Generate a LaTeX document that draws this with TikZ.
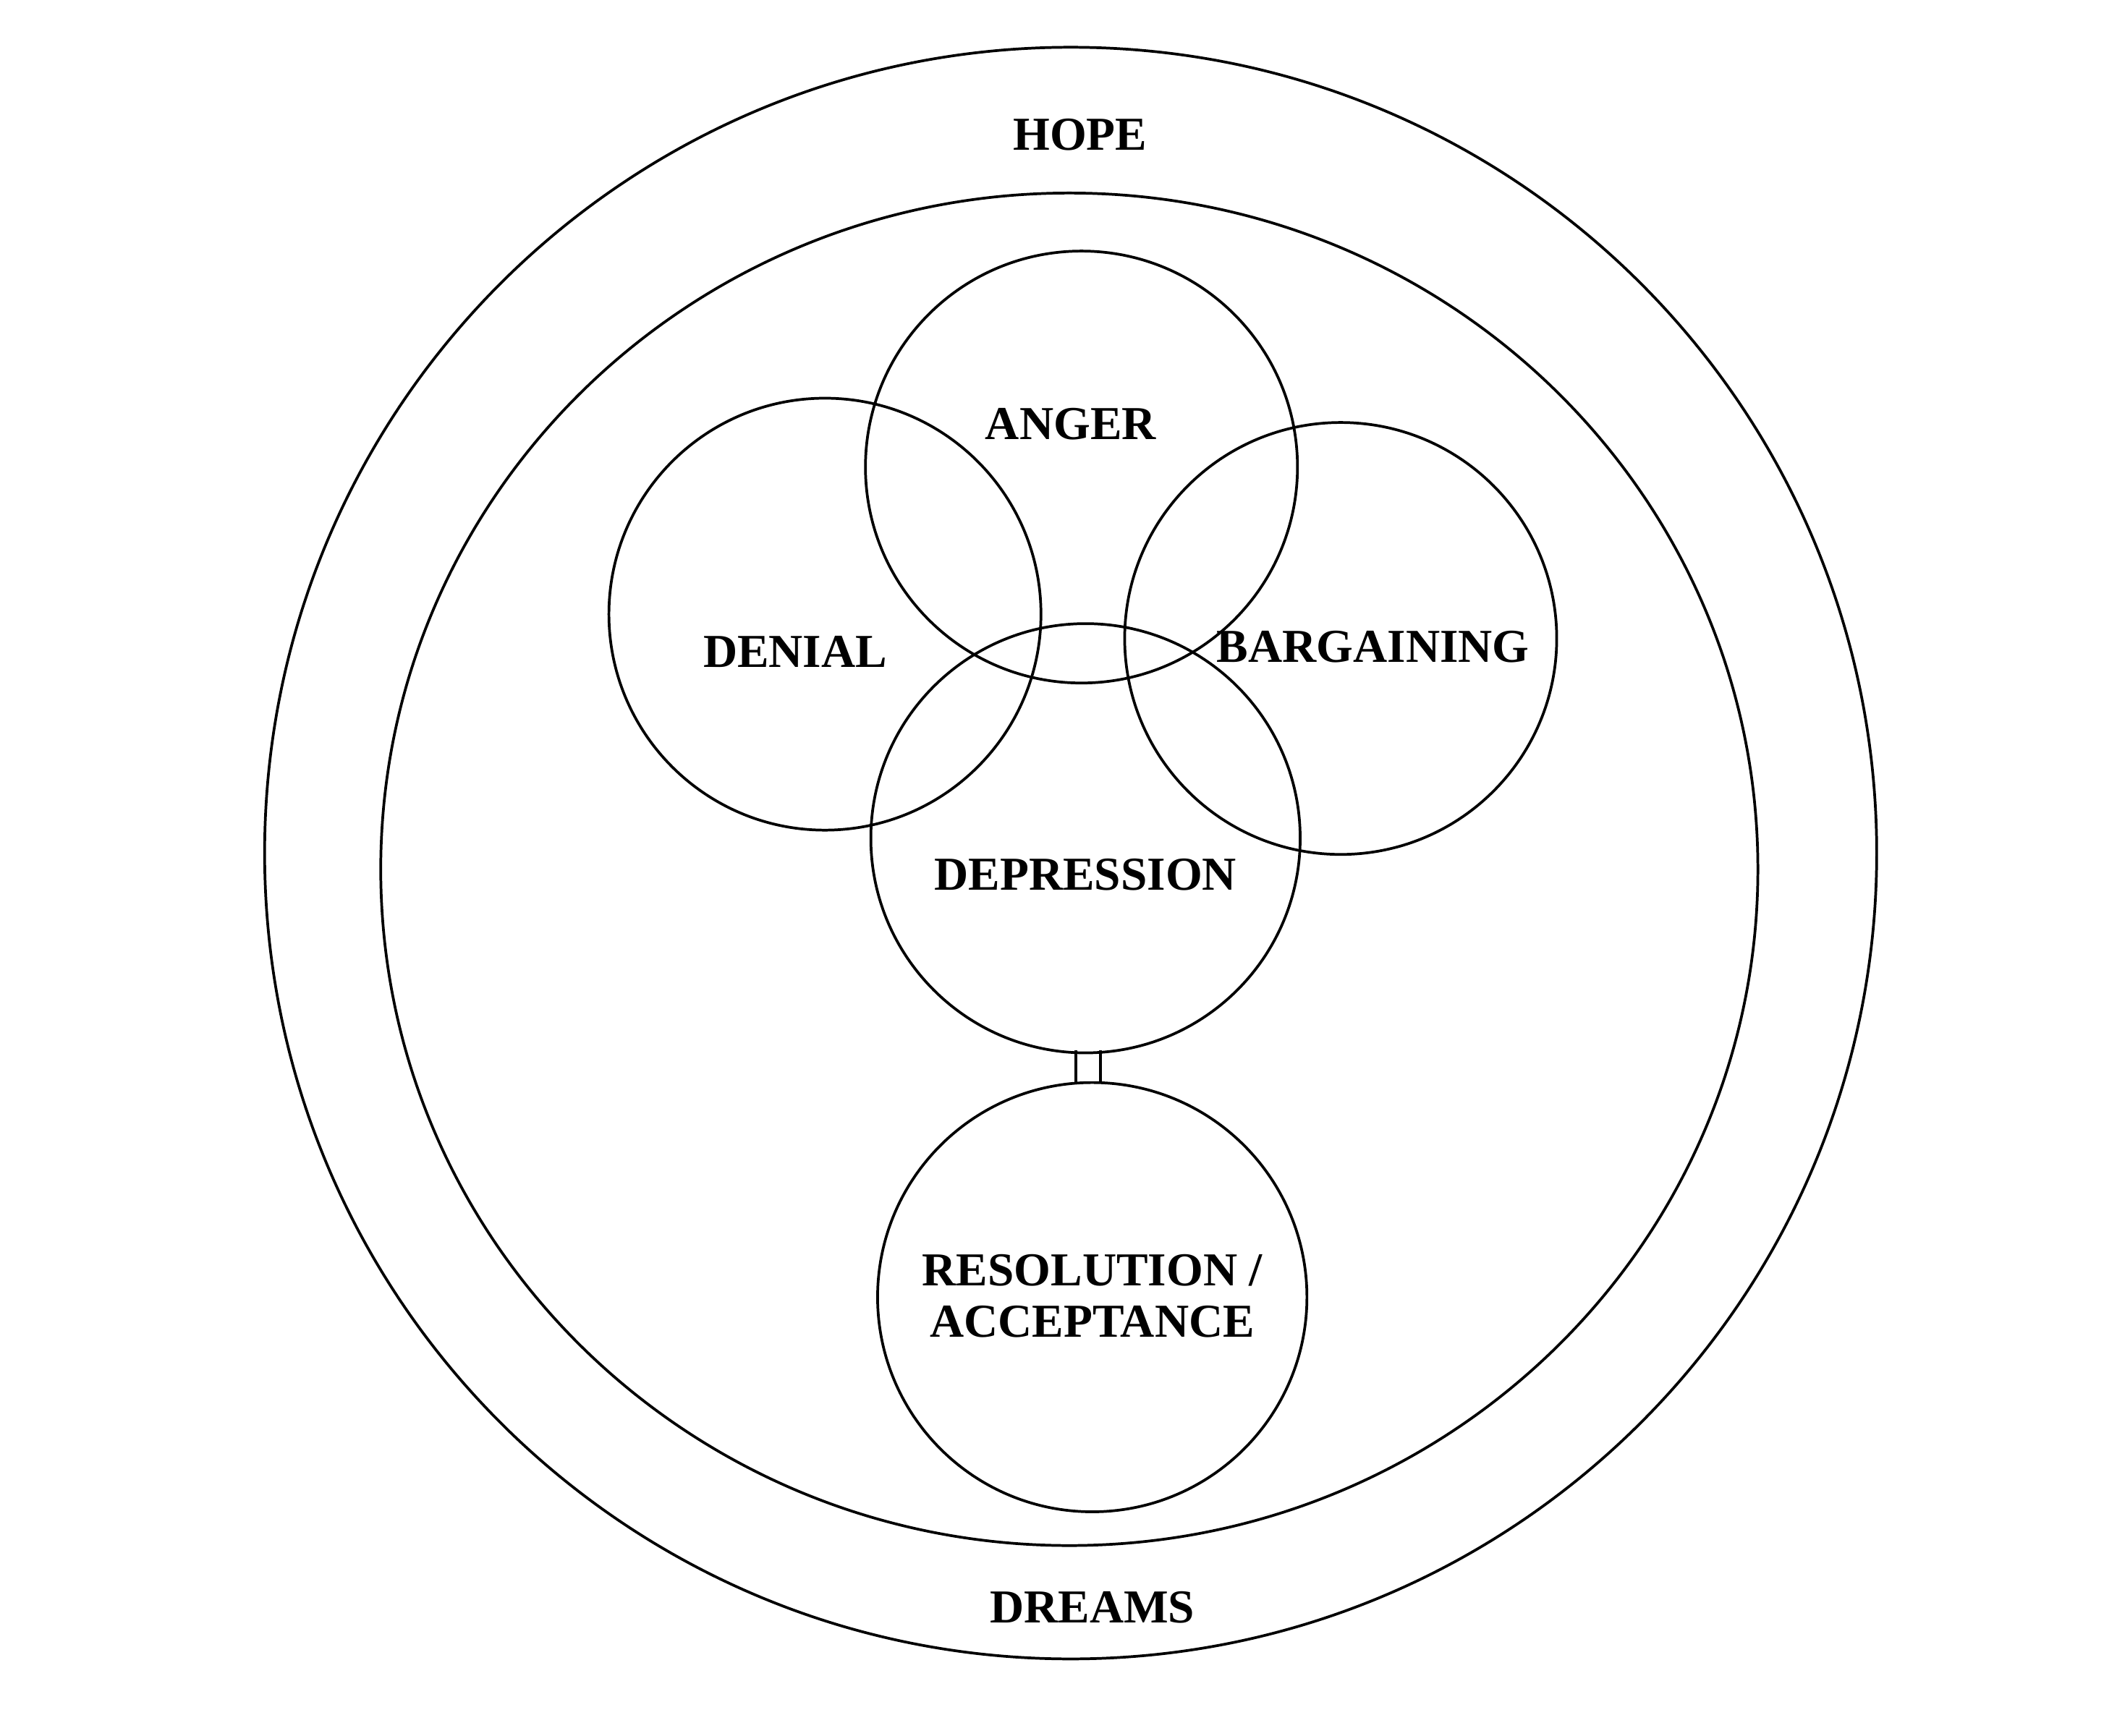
\documentclass[tikz,border=0pt]{standalone}
\usepackage{fontspec}
\usetikzlibrary{shapes.geometric}
\setmainfont{Liberation Serif}
\begin{document}
\begin{tikzpicture}[x=1pt,y=-1pt,
  ring/.style={draw=black,line width=2pt,circle,inner sep=0pt},
  lab/.style={font=\fontsize{35}{38}\selectfont\bfseries,align=center}]
\useasboundingbox[fill=white] (0,0) rectangle (1568,1286);
\node[ring,minimum size=1194pt] (outer) at (793,632) {};
\node[draw=black,line width=2pt,ellipse,inner sep=0pt,minimum width=1020pt,minimum height=1002pt] (inner) at (792,644) {};
\node[ring,minimum size=320pt] (denial) at (611,455) {};
\node[ring,minimum size=320pt] (anger) at (801,346) {};
\node[ring,minimum size=320pt] (barg) at (993,473) {};
\node[ring,minimum size=318pt] (depr) at (804,621) {};
\node[ring,minimum size=318pt] (res) at (809,961) {};
\draw[line width=2pt] (797,778) -- (797,803) (815,778) -- (815,803);
\node[lab] (thope) at (800,100) {HOPE};
\node[lab] (tanger) at (793,314) {ANGER};
\node[lab] (tdenial) at (589,483) {DENIAL};
\node[lab] (tbarg) at (1017,479) {BARGAINING};
\node[lab] (tdepr) at (804,648) {DEPRESSION};
\node[lab] (tres) at (809,960) {RESOLUTION /\\ACCEPTANCE};
\node[lab] (tdreams) at (809,1191) {DREAMS};
\end{tikzpicture}
\end{document}
